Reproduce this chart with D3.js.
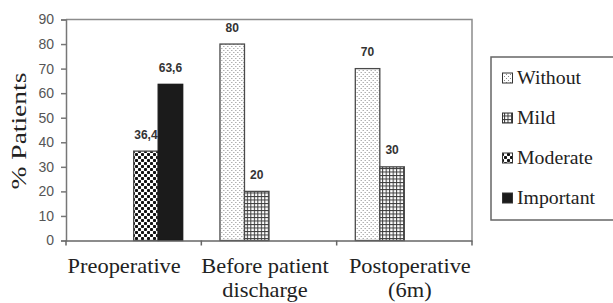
<!DOCTYPE html>
<html><head><meta charset="utf-8">
<script src="https://cdn.jsdelivr.net/npm/d3@7"></script>
<style>html,body{margin:0;padding:0;background:#fff;}svg{display:block;}</style>
</head><body>
<svg id="chart" width="613" height="303"></svg>
<script>
const categories = ["Preoperative", "Before patient discharge", "Postoperative (6m)"];
const categoryLines = [["Preoperative"], ["Before patient", "discharge"], ["Postoperative", "(6m)"]];
const series = ["Without", "Mild", "Moderate", "Important"];
const without   = [0, 80, 70];
const mild      = [0, 20, 30];
const moderate  = [36.4, 0, 0];
const important = [63.6, 0, 0];
const valueLabels = [["", "", "36,4", "63,6"], ["80", "20", "", ""], ["70", "30", "", ""]];
const yTicks = [0, 10, 20, 30, 40, 50, 60, 70, 80, 90];

(function() {
const SERIF = '"Liberation Serif"';
const SANS = '"Liberation Sans"';
const seriesValues = [without, mild, moderate, important];
const svg = d3.select("#chart");
svg.append("rect").attr("width", 613).attr("height", 303).attr("fill", "#fff");

// patterns
const defs = svg.append("defs");
const pW = defs.append("pattern").attr("id", "p0").attr("patternUnits", "userSpaceOnUse").attr("width", 4).attr("height", 4);
pW.append("rect").attr("width", 4).attr("height", 4).attr("fill", "#fff");
pW.append("rect").attr("x", 0).attr("y", 0).attr("width", 1).attr("height", 1).attr("fill", "#8a8a8a");
pW.append("rect").attr("x", 2).attr("y", 2).attr("width", 1).attr("height", 1).attr("fill", "#8a8a8a");
const pM = defs.append("pattern").attr("id", "p1").attr("patternUnits", "userSpaceOnUse").attr("width", 3.5).attr("height", 3.5);
pM.append("rect").attr("width", 3.5).attr("height", 3.5).attr("fill", "#fff");
pM.append("rect").attr("x", 0).attr("y", 0).attr("width", 3.5).attr("height", 1).attr("fill", "#3a3a3a");
pM.append("rect").attr("x", 0).attr("y", 0).attr("width", 1).attr("height", 3.5).attr("fill", "#3a3a3a");
const pMo = defs.append("pattern").attr("id", "p2").attr("patternUnits", "userSpaceOnUse").attr("width", 6).attr("height", 6);
pMo.append("rect").attr("width", 6).attr("height", 6).attr("fill", "#fff");
pMo.append("rect").attr("x", 0).attr("y", 0).attr("width", 3).attr("height", 3).attr("rx", 0.8).attr("fill", "#111");
pMo.append("rect").attr("x", 3).attr("y", 3).attr("width", 3).attr("height", 3).attr("rx", 0.8).attr("fill", "#111");
const fills = ["url(#p0)", "url(#p1)", "url(#p2)", "#1b1b1b"];

const pl = 66, pr = 472, pt = 19.5, pb = 240.5;
const y = d3.scaleLinear().domain([0, 90]).range([pb, pt]);
const x = d3.scaleBand().domain(categories).range([pl, pr]).padding(0);
const x1 = d3.scaleBand().domain(series).range([0, x.bandwidth()]).paddingInner(0).paddingOuter(0.76);

// plot border (top, right)
svg.append("path").attr("d", `M${pl},${pt}H${pr}V${pb}`).attr("fill", "none").attr("stroke", "#8c8c8c").attr("stroke-width", 1.5);

// bars
const groups = svg.append("g").selectAll("g").data(categories).join("g")
  .attr("transform", d => `translate(${x(d)},0)`);
groups.each(function(cat, ci) {
  const g = d3.select(this);
  series.forEach((s, si) => {
    const v = seriesValues[si][ci];
    if (!v) return;
    g.append("rect")
      .attr("x", x1(s)).attr("y", y(v))
      .attr("width", x1.bandwidth()).attr("height", y(0) - y(v))
      .attr("fill", fills[si])
      .attr("stroke", si === 3 ? "#1b1b1b" : "#4a4a4a").attr("stroke-width", 1.3);
    g.append("text")
      .attr("x", x1(s) + x1.bandwidth() / 2).attr("y", y(v) - 12.5)
      .attr("text-anchor", "middle")
      .style("font-family", SANS).style("font-weight", "bold")
      .style("font-size", "12px").attr("fill", "#333")
      .text(valueLabels[ci][si]);
  });
});

// y axis
const yAxis = svg.append("g").attr("transform", `translate(${pl},0)`)
  .call(d3.axisLeft(y).tickValues(yTicks).tickSize(5).tickPadding(7).tickFormat(d3.format("d")));
yAxis.select(".domain").attr("stroke", "#777").attr("stroke-width", 1.5);
yAxis.selectAll(".tick line").attr("stroke", "#777").attr("stroke-width", 1.5);
yAxis.selectAll(".tick text").style("font-family", SANS).style("font-size", "14px").attr("fill", "#555");

// x axis
const xAxis = svg.append("g").attr("transform", `translate(0,${pb})`)
  .call(d3.axisBottom(x).tickSize(0).tickFormat(""));
xAxis.select(".domain").attr("stroke", "#666").attr("stroke-width", 1.5);
const tickPos = [pl].concat(categories.map(c => x(c) + x.bandwidth()));
xAxis.selectAll("line.sep").data(tickPos).join("line").attr("class", "sep")
  .attr("x1", d => d).attr("x2", d => d).attr("y1", 0).attr("y2", 5)
  .attr("stroke", "#666").attr("stroke-width", 1.5);

// category labels
const labelDx = [-9.5, -4, 5.5];
categories.forEach((c, ci) => {
  const cx = x(c) + x.bandwidth() / 2 + labelDx[ci];
  categoryLines[ci].forEach((line, li) => {
    svg.append("text")
      .attr("transform", `translate(${cx},${273 + li * 24}) scale(1.12,1)`)
      .attr("text-anchor", "middle")
      .style("font-family", SERIF).style("font-size", "20px").attr("fill", "#222")
      .text(line);
  });
});

// y title
svg.append("text")
  .attr("transform", `translate(26,131) rotate(-90) scale(1.25,1)`)
  .attr("text-anchor", "middle")
  .style("font-family", SERIF).style("font-size", "22px").attr("fill", "#222")
  .text("% Patients");

// legend
const lg = svg.append("g");
lg.append("rect").attr("x", 491).attr("y", 57).attr("width", 140).attr("height", 163)
  .attr("fill", "#fff").attr("stroke", "#666").attr("stroke-width", 1.5);
series.forEach((s, si) => {
  const cy = 78 + si * 40;
  lg.append("rect").attr("x", 502.5).attr("y", cy - 5).attr("width", 10).attr("height", 10)
    .attr("fill", fills[si]).attr("stroke", "#333").attr("stroke-width", 1);
  lg.append("text")
    .attr("transform", `translate(517,${cy + 6}) scale(1.1,1)`)
    .style("font-family", SERIF).style("font-size", "18px").attr("fill", "#222")
    .text(s);
});
})();
</script>
</body></html>
